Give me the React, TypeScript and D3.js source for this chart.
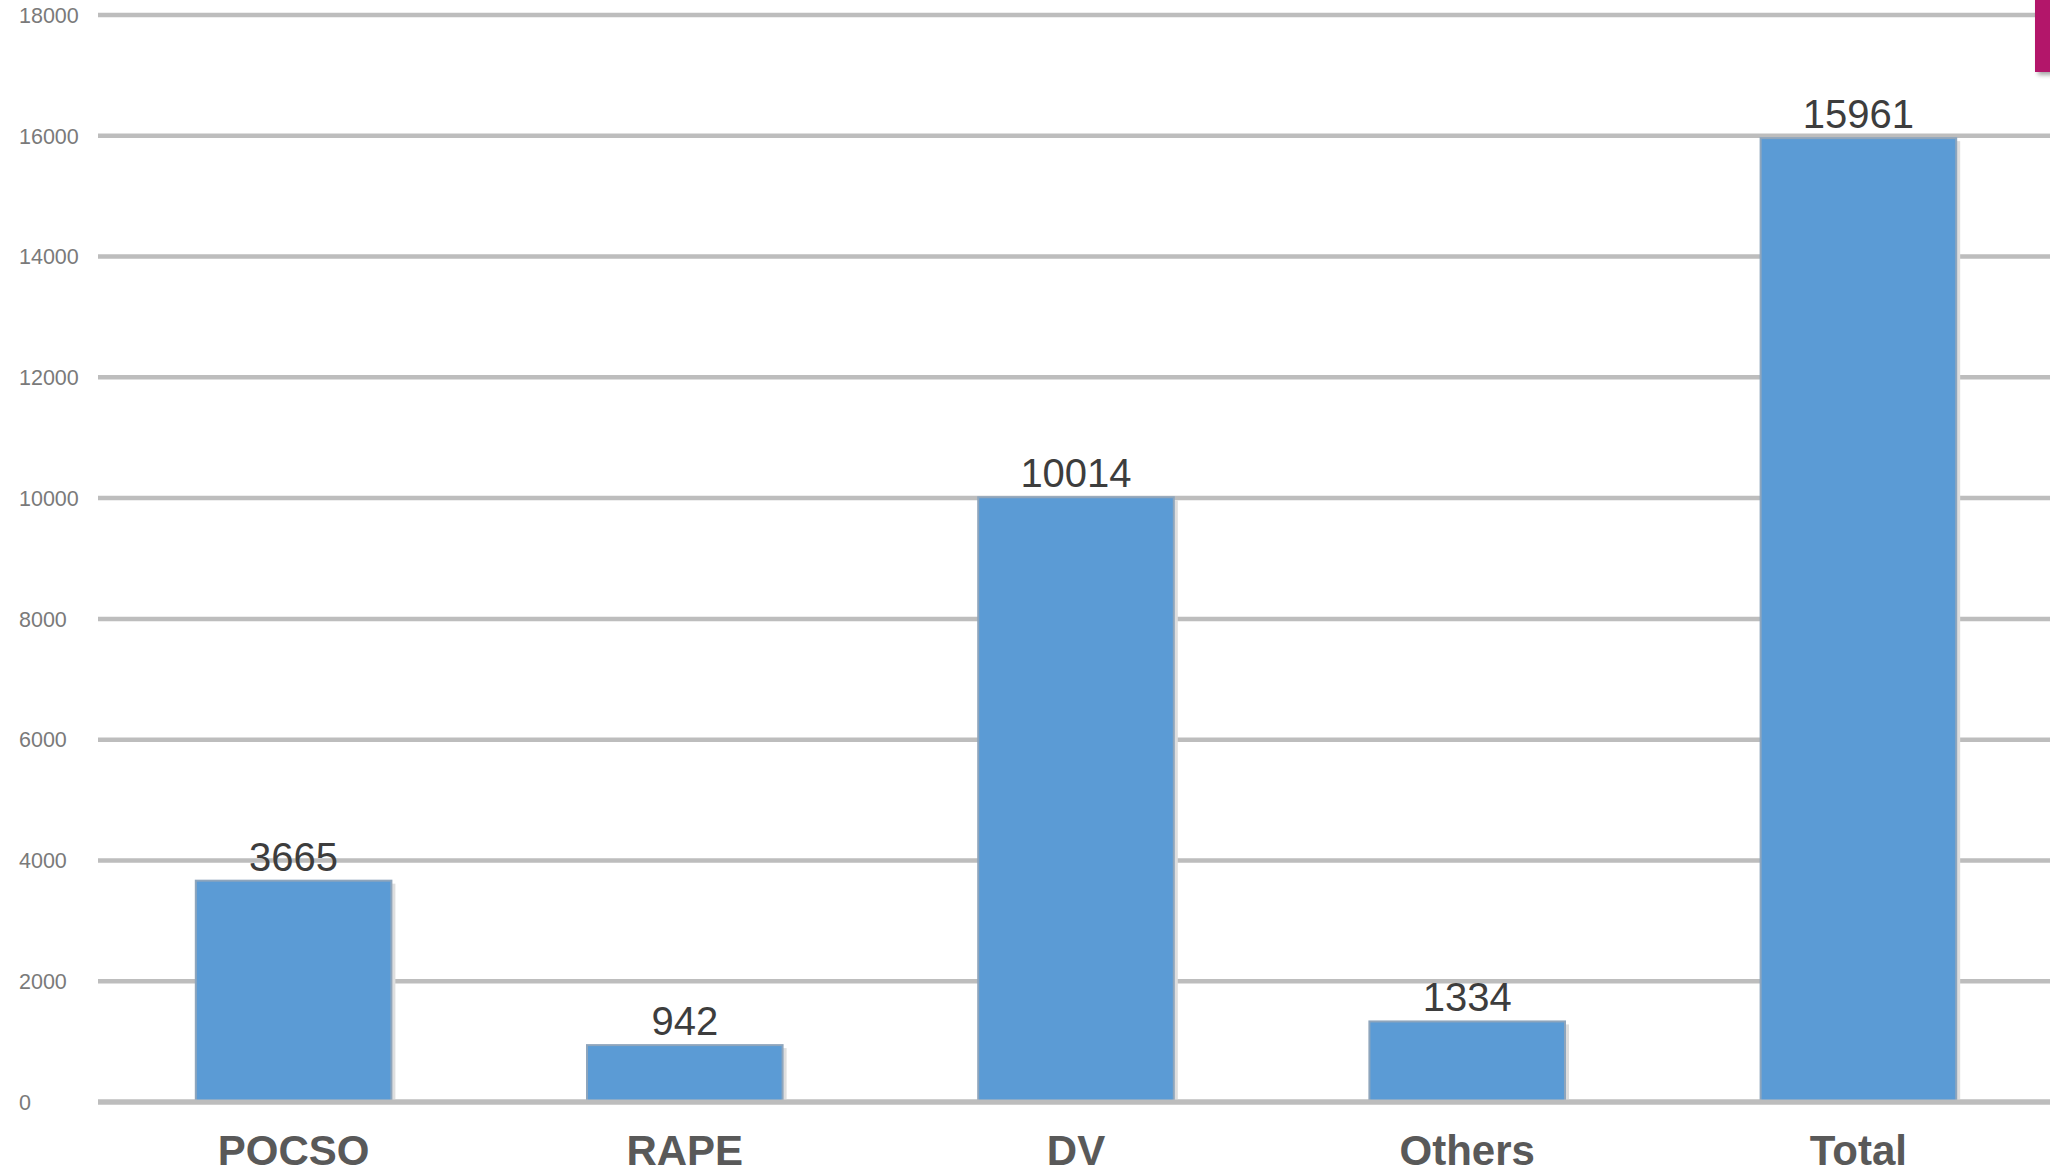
import React, { useEffect } from "react";
import * as d3 from "d3";

// Case counts by category
const categories: string[] = ["POCSO", "RAPE", "DV", "Others", "Total"];
const cases: number[] = [3665, 942, 10014, 1334, 15961];
const yTicks: number[] = [0, 2000, 4000, 6000, 8000, 10000, 12000, 14000, 16000, 18000];

const W = 2050;
const H = 1170;

export default function App() {
  useEffect(() => {
    document.body.style.margin = "0";
    document.body.style.overflow = "hidden";
  }, []);

  const y = d3.scaleLinear().domain([0, 18000]).range([1102, 15]);
  const x = d3
    .scaleBand<string>()
    .domain(categories)
    .range([98, 2054])
    .paddingInner(0.5)
    .paddingOuter(0.25);

  const font = "'Liberation Sans', Arial, sans-serif";

  return (
    <svg
      width={W}
      height={H}
      viewBox={`0 0 ${W} ${H}`}
      style={{ position: "absolute", left: 0, top: 0, background: "#ffffff" }}
    >
      <defs>
        <filter id="softShadow" x="-20%" y="-20%" width="160%" height="160%">
          <feDropShadow dx="3" dy="3" stdDeviation="2" floodColor="#000" floodOpacity="0.35" />
        </filter>
      </defs>
      <rect x={0} y={0} width={W} height={H} fill="#ffffff" />

      {/* gridlines and tick labels */}
      {yTicks.map((t) => (
        <g key={t}>
          <line
            x1={98}
            x2={W}
            y1={y(t)}
            y2={y(t)}
            stroke="#bdbdbd"
            strokeWidth={t === 0 ? 5 : 4.5}
          />
          <text
            x={19}
            y={y(t)}
            dy="0.36em"
            fontFamily={font}
            fontSize={21.5}
            fill="#7a7a7a"
          >
            {t}
          </text>
        </g>
      ))}

      {/* bars */}
      {categories.map((c, i) => {
        const x0 = x(c) as number;
        const bw = x.bandwidth();
        const top = y(cases[i]);
        const base = y(0);
        return (
          <g key={c}>
            <rect x={x0 + 4} y={top + 3} width={bw} height={base - top - 3} fill="#dedede" />
            <rect
              x={x0}
              y={top}
              width={bw}
              height={base - top}
              fill="#5b9bd5"
              stroke="#8ea5bc"
              strokeWidth={2}
            />
            <text
              x={x0 + bw / 2}
              y={top - 10}
              textAnchor="middle"
              fontFamily={font}
              fontSize={40}
              fill="#3d3d3d"
            >
              {cases[i]}
            </text>
            <text
              x={x0 + bw / 2}
              y={1165}
              textAnchor="middle"
              fontFamily={font}
              fontSize={42}
              fontWeight="bold"
              fill="#595959"
            >
              {c}
            </text>
          </g>
        );
      })}

      {/* baseline redrawn over bar bottoms */}
      <line x1={98} x2={W} y1={y(0)} y2={y(0)} stroke="#bdbdbd" strokeWidth={5} />

      {/* accent tab at the top-right corner */}
      <rect x={2035} y={-5} width={20} height={77} fill="#b3136b" filter="url(#softShadow)" />
    </svg>
  );
}
